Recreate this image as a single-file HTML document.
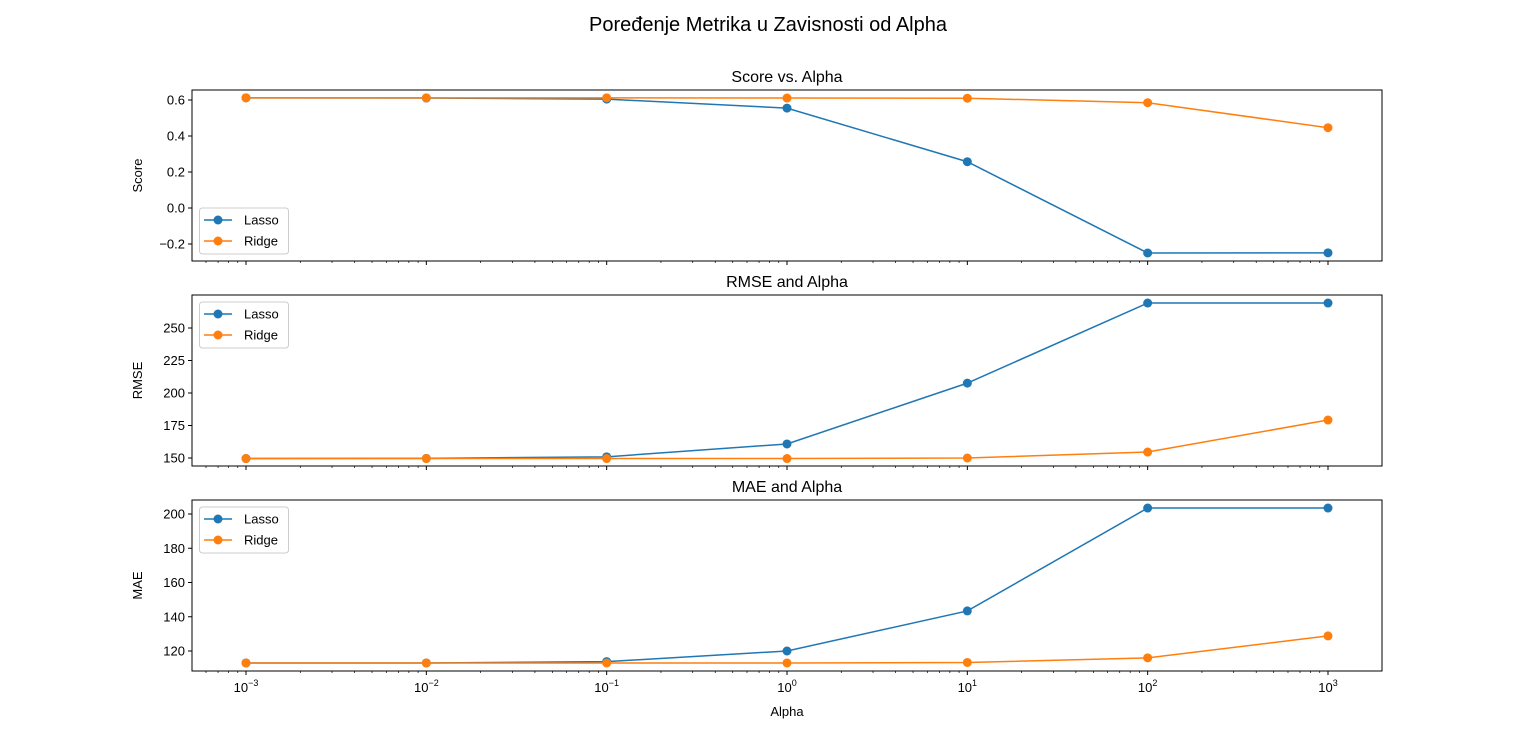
<!DOCTYPE html>
<html><head><meta charset="utf-8">
<style>
html,body{margin:0;padding:0;background:#fff;}
svg{display:block;font-family:"Liberation Sans","DejaVu Sans",sans-serif;}
</style></head>
<body>
<svg id="chart" width="1536" height="754" viewBox="0 0 1536 754" xmlns="http://www.w3.org/2000/svg">
<text x="768" y="31" font-size="20" text-anchor="middle">Poređenje Metrika u Zavisnosti od Alpha</text>
</svg>
<script>
const alphas = [0.001, 0.01, 0.1, 1, 10, 100, 1000];
const xTickExps = [-3, -2, -1, 0, 1, 2, 3];
const scoreLasso = [0.612, 0.611, 0.605, 0.555, 0.257, -0.25, -0.249];
const scoreRidge = [0.612, 0.612, 0.612, 0.611, 0.610, 0.585, 0.446];
const scoreTicks = [-0.2, 0.0, 0.2, 0.4, 0.6];
const rmseLasso = [149.6, 149.7, 150.9, 160.8, 207.6, 269.2, 269.2];
const rmseRidge = [149.6, 149.6, 149.6, 149.6, 150.0, 154.6, 179.2];
const rmseTicks = [150, 175, 200, 225, 250];
const maeLasso = [113.0, 113.0, 113.8, 120.0, 143.4, 203.5, 203.5];
const maeRidge = [113.0, 113.0, 113.0, 113.0, 113.3, 116.0, 128.8];
const maeTicks = [120, 140, 160, 180, 200];

const NS = "http://www.w3.org/2000/svg";
const svg = document.getElementById('chart');
const L = 192, R = 1382;
const xMin = Math.log10(0.001) - 0.2995, xMax = Math.log10(1000) + 0.2995;
function xs(v){ return L + (Math.log10(v) - xMin) / (xMax - xMin) * (R - L); }
function mk(tag, attrs, parent){
  const e = document.createElementNS(NS, tag);
  for (const k in attrs) e.setAttribute(k, attrs[k]);
  (parent || svg).appendChild(e); return e;
}
const BLUE = '#1f77b4', ORANGE = '#ff7f0e';

function panel(name, top, bottom, yMin, yMax, ticks, fmt, lasso, ridge, title, ylabel, legendTop, showX){
  const g = mk('g', {});
  
  
  const ys = v => bottom - (v - yMin) / (yMax - yMin) * (bottom - top);
  // title
  const t = mk('text', {x: (L+R)/2, y: top - 8, 'font-size': 16, 'text-anchor': 'middle'}, g);
  t.textContent = title;
  
  
  // y label
  const yl = mk('text', {transform: `translate(${L-50},${(top+bottom)/2}) rotate(-90)`, 'font-size': 13, 'text-anchor': 'middle'}, g);
  yl.textContent = ylabel;
  
  
  // y ticks
  ticks.forEach(v => {
    const y = ys(v);
    mk('line', {x1: L-4, x2: L, y1: y, y2: y, stroke: '#000', 'stroke-width': 1}, g);
    const tl = mk('text', {x: L-7, y: y+4.5, 'font-size': 13, 'text-anchor': 'end'}, g);
    tl.textContent = fmt(v);
    
    
  });
  // x ticks
  for (let e = -4; e <= 3; e++) {
    for (let m = 1; m < 10; m++) {
      const v = m * Math.pow(10, e);
      const x = xs(v);
      if (x < L || x > R) continue;
      const major = m === 1;
      mk('line', {x1: x, x2: x, y1: bottom, y2: bottom + (major ? 4 : 2), stroke: '#000', 'stroke-width': major ? 1 : 0.7}, g);
    }
  }
  if (showX) {
    xTickExps.forEach(e => {
      const x = xs(Math.pow(10, e));
      const tx = mk('text', {x: x, y: bottom + 21, 'font-size': 13, 'text-anchor': 'middle'}, g);
      tx.textContent = '10';
      const sp = mk('tspan', {dy: -6, 'font-size': 9}, tx);
      sp.textContent = e < 0 ? '\u2212' + (-e) : String(e);
      
      
    });
  }
  // series
  [[lasso, BLUE, 'lasso'], [ridge, ORANGE, 'ridge']].forEach(([data, col, s]) => {
    const pts = data.map((v, i) => xs(alphas[i]).toFixed(2) + ',' + ys(v).toFixed(2)).join(' ');
    const pl = mk('polyline', {points: pts, fill: 'none', stroke: col, 'stroke-width': 1.5}, g);
    
    
    data.forEach((v, i) => {
      const c = mk('circle', {cx: xs(alphas[i]), cy: ys(v), r: 4.5, fill: col}, g);
      
      
    });
  });
  // frame
  mk('rect', {x: L, y: top, width: R-L, height: bottom-top, fill: 'none', stroke: '#000', 'stroke-width': 1}, g);
  // legend
  const lg = mk('g', {}, g);
  
  
  mk('rect', {x: 199.5, y: legendTop, width: 89, height: 46, rx: 3, fill: '#fff', 'fill-opacity': 0.8, stroke: '#ccc', 'stroke-width': 1}, lg);
  [['Lasso', BLUE], ['Ridge', ORANGE]].forEach(([lab, col], i) => {
    const y = legendTop + 12 + i * 21;
    mk('line', {x1: 204, x2: 232, y1: y, y2: y, stroke: col, 'stroke-width': 1.5}, lg);
    mk('circle', {cx: 218, cy: y, r: 4.5, fill: col}, lg);
    const lt = mk('text', {x: 244, y: y + 4.5, 'font-size': 13}, lg);
    lt.textContent = lab;
    
    
  });
}

const f1 = v => (v < 0 ? '\u2212' : '') + Math.abs(v).toFixed(1);
const f0 = v => String(v);
panel('score', 90, 261, -0.2 - 36/180*0.5*0 - (244-261)/-180 , 0, scoreTicks, f1, scoreLasso, scoreRidge, 'Score vs. Alpha', 'Score', 208, false);
</script>
<script>
// redraw cleanly with explicit scales (first call above replaced below)
while (svg.childNodes.length > 2) svg.removeChild(svg.lastChild);
// Score: 0.0 at y=208, 180 px per unit
panel('score', 90, 261, (208-261)/180, (208-90)/180, scoreTicks, f1, scoreLasso, scoreRidge, 'Score vs. Alpha', 'Score', 208, false);
// RMSE: 150 at y=458, 1.3 px per unit
panel('rmse', 295, 466, 150 - (466-458)/1.3, 150 + (458-295)/1.3, rmseTicks, f0, rmseLasso, rmseRidge, 'RMSE and Alpha', 'RMSE', 302, false);
// MAE: 120 at y=651, 1.7125 px per unit
panel('mae', 500, 671, 120 - (671-651)/1.7125, 120 + (651-500)/1.7125, maeTicks, f0, maeLasso, maeRidge, 'MAE and Alpha', 'MAE', 507, true);
const xl = mk('text', {x: (L+R)/2, y: 716, 'font-size': 13, 'text-anchor': 'middle'});
xl.textContent = 'Alpha';


</script>
</body></html>
